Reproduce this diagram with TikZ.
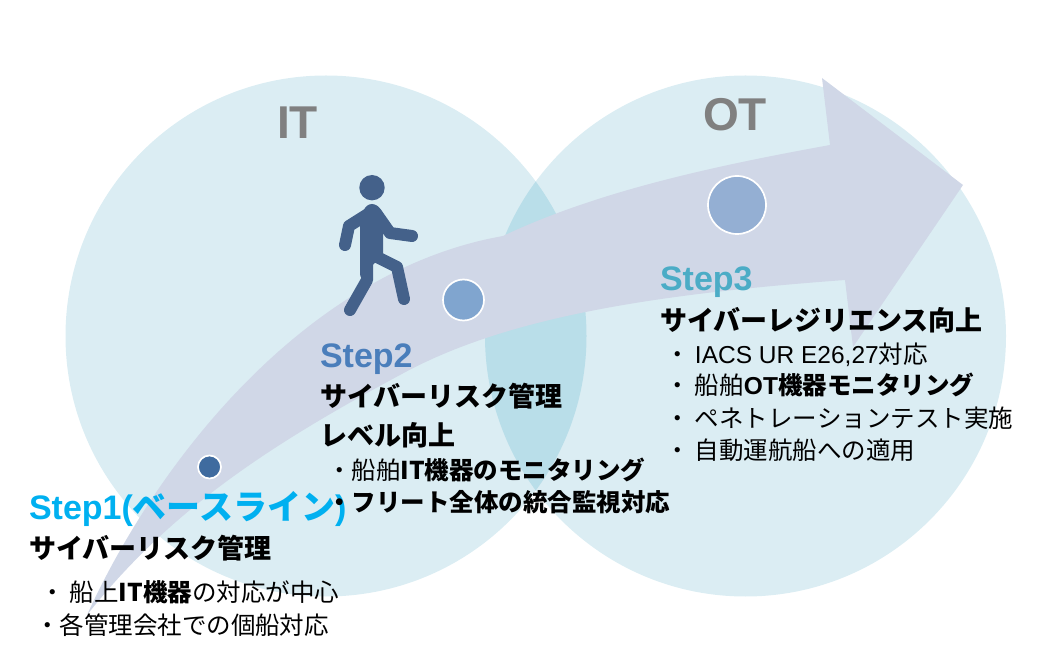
\documentclass[tikz,border=0pt]{standalone}
\usepackage{fontspec}
\setmainfont{Liberation Sans}
\newfontfamily\jp{Noto Sans CJK JP}
\newcommand{\J}[1]{{\jp #1}}
\newcommand{\JB}[1]{{\jp\bfseries #1}}
\definecolor{circ}{HTML}{DBEDF3}
\definecolor{lap}{HTML}{B9DEE9}
\definecolor{arr}{HTML}{D0D7E7}
\definecolor{person}{HTML}{44618A}
\definecolor{sone}{HTML}{00B0F0}
\definecolor{stwo}{HTML}{4A7EBB}
\definecolor{sthree}{HTML}{4BACC6}
\tikzset{
  ln/.style={anchor=base west,inner sep=0pt,outer sep=0pt,text=black},
  body/.style={ln,font=\fontsize{24.5}{24.5}\selectfont},
  head/.style={ln,font=\fontsize{27}{27}\selectfont\bfseries\jp},
  stp/.style={ln,font=\fontsize{34}{34}\selectfont\bfseries},
  captxt/.style={ln,text=black!50,font=\fontsize{46}{46}\selectfont\bfseries},
  dot/.style={circle,draw=white,line width=1.7pt,inner sep=0pt},
  limb/.style={draw=person,line width=12pt,line cap=round,line join=round}
}
\begin{document}
\begin{tikzpicture}[x=1pt,y=-1pt]
\useasboundingbox (0,0) rectangle (1037,660);
\fill[circ] (326,336) circle[radius=260.5];
\fill[circ] (745.5,336) circle[radius=260.5];
\begin{scope}
\clip (326,336) circle[radius=260.5];
\fill[lap] (745.5,336) circle[radius=260.5];
\end{scope}
% arrow
\fill[arr] (87,615) .. controls (160,455) and (310,270) .. (503,236)
  -- (503,236) .. controls (600,190) and (720,165) .. (830,145)
  -- (822,78) -- (963,185) -- (853,347) -- (845,280)
  .. controls (640,295) and (500,320) .. (400,375)
  .. controls (270,445) and (170,510) .. cycle;
% dots
\node[dot,minimum size=23pt,fill=stwo!85!black] (d1) at (209.5,467) {};
\node[dot,minimum size=41pt,fill=stwo!70!white] (d2) at (463.5,300) {};
\node[dot,minimum size=58pt,fill=stwo!45!arr] (d3) at (737,205) {};
% person
\fill[person] (372,187.7) circle[radius=12.7];
\draw[limb] (368,214) -- (349,226) -- (345,245);
\draw[limb] (376,213) -- (390,233) -- (412,236);
\draw[limb] (367,255) -- (367,280) -- (350,310);
\draw[limb] (377,257) -- (397,267) -- (404,299);
\fill[person,rounded corners=6pt] (360,222) -- (366,204) -- (378,204) -- (383,215) -- (383,262) -- (372,262) -- (372,280) -- (360,280) -- cycle;
% titles
\node[captxt] (it) at (277,139) {IT};
\node[captxt] (ot) at (703,131) {OT};
% step 1
\node[stp,text=sone] (s1) at (29,519) {Step1(\J{\bfseries ベースライン})};
\node[head] (s1h) at (29,558) {サイバーリスク管理};
\node[body] (s1a) at (40,601) {\J{・ 船上}{\bfseries\jp IT機器}\J{の対応が中心}};
\node[body] (s1b) at (35,634) {\J{・各管理会社での個船対応}};
% step 2
\node[stp,text=stwo] (s2) at (320,368) {Step2};
\node[head] (s2h) at (320,407) {サイバーリスク管理};
\node[head] (s2i) at (320,446) {レベル向上};
\node[body] (s2a) at (327,479) {\J{・船舶}{\bfseries\jp IT機器のモニタリング}};
\node[body] (s2b) at (327,511) {\JB{・フリート全体の統合監視対応}};
% step 3
\node[stp,text=sthree] (s3) at (660,291) {Step3};
\node[head] (s3h) at (660,331) {サイバーレジリエンス向上};
\node[body] (s3a) at (665,364) {\J{・ }IACS UR E26,27\J{対応}};
\node[body] (s3b) at (665,395) {\J{・ 船舶}{\bfseries OT}\JB{機器モニタリング}};
\node[body] (s3c) at (665,428) {\J{・ ペネトレーションテスト実施}};
\node[body] (s3d) at (665,460) {\J{・ 自動運航船への適用}};
\end{tikzpicture}
\end{document}
